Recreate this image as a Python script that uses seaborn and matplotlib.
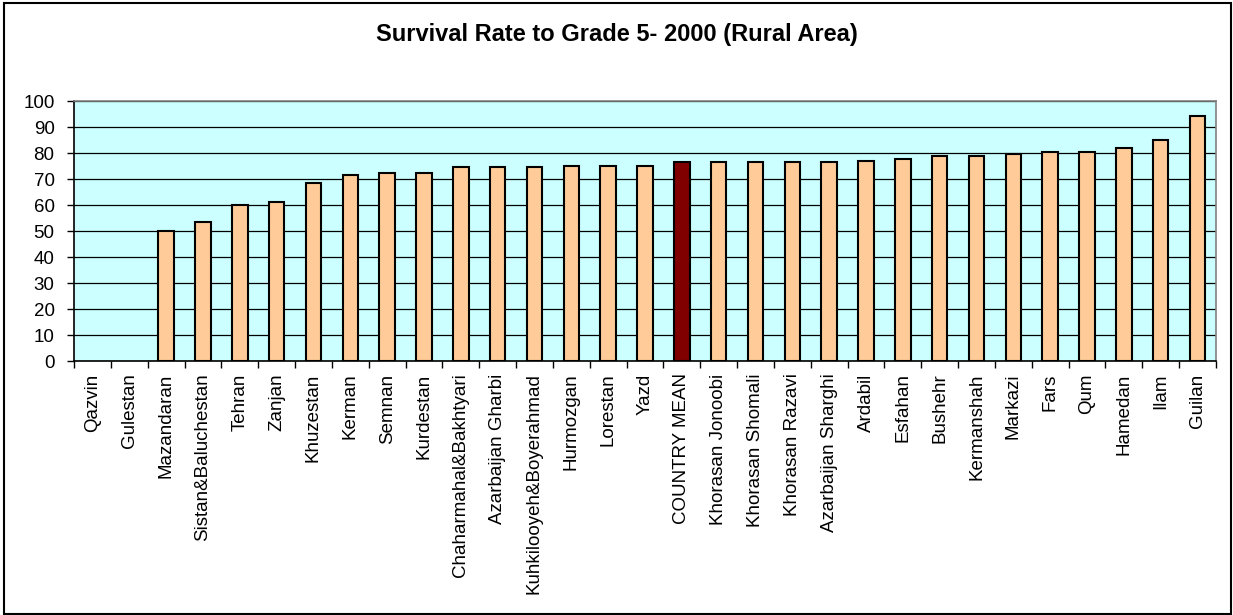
import numpy as np
import pandas as pd
import matplotlib
matplotlib.use("Agg")
import matplotlib.pyplot as plt
from matplotlib.patches import Rectangle
import seaborn as sns

# Survival rate to grade 5 by province (rural areas, 2000)
provinces = [
    "Qazvin", "Gulestan", "Mazandaran", "Sistan&Baluchestan", "Tehran", "Zanjan",
    "Khuzestan", "Kerman", "Semnan", "Kurdestan", "Chaharmahal&Bakhtyari",
    "Azarbaijan Gharbi", "Kuhkilooyeh&Boyerahmad", "Hurmozgan", "Lorestan", "Yazd",
    "COUNTRY MEAN", "Khorasan Jonoobi", "Khorasan Shomali", "Khorasan Razavi",
    "Azarbaijan Sharghi", "Ardabil", "Esfahan", "Bushehr", "Kermanshah", "Markazi",
    "Fars", "Qum", "Hamedan", "Ilam", "Guilan",
]
survival = [
    np.nan, np.nan, 50.0, 53.5, 60.0, 61.0,
    68.3, 71.6, 72.4, 72.4, 74.5,
    74.5, 74.5, 75.1, 75.1, 75.1,
    76.4, 76.4, 76.4, 76.4,
    76.4, 77.0, 77.8, 78.9, 78.9, 79.6,
    80.4, 80.4, 81.8, 85.1, 94.4,
]
yticks = list(range(0, 101, 10))
mean_label = "COUNTRY MEAN"

sns.set_theme(style="white")
plt.rcParams["font.family"] = ["Liberation Sans", "DejaVu Sans"]
plt.rcParams["text.color"] = "black"
plt.rcParams["xtick.color"] = "black"
plt.rcParams["ytick.color"] = "black"
plt.rcParams["xtick.labelcolor"] = "black"
plt.rcParams["ytick.labelcolor"] = "black"

W, H = 1233, 615
fig = plt.figure(figsize=(W / 100, H / 100), dpi=100)
fig.patch.set_facecolor("white")
ax = fig.add_axes([74 / W, 1 - 361 / H, (1216 - 74) / W, 260 / H])

df = pd.DataFrame({"province": provinces, "rate": survival})
palette = {p: ("#800000" if p == mean_label else "#FFCC99") for p in provinces}
sns.barplot(
    data=df, x="province", y="rate", hue="province", order=provinces,
    hue_order=provinces, palette=palette, saturation=1, width=0.42,
    edgecolor="black", linewidth=1.5, legend=False, ax=ax, errorbar=None,
)

ax.set_facecolor("#CCFFFF")
ax.set_xlim(-0.5, len(provinces) - 0.5)
ax.set_ylim(0, 100)
ax.set_yticks(yticks)
ax.set_yticklabels([str(t) for t in yticks], fontsize=13.5, color="black")
ax.yaxis.grid(True, color="black", linewidth=0.9)
ax.xaxis.grid(False)
ax.set_axisbelow(True)
ax.set_xlabel("")
ax.set_ylabel("")

# category labels centred on bars, tick marks between categories
ax.set_xticks(np.arange(len(provinces)))
ax.set_xticklabels(provinces, rotation=90, fontsize=13.5, color="black")
ax.set_xticks(np.arange(len(provinces) + 1) - 0.5, minor=True)
ax.tick_params(axis="x", which="major", length=0, pad=9)
ax.tick_params(axis="x", which="minor", length=5, width=1, color="black", bottom=True)
ax.tick_params(axis="y", which="major", length=5, width=1, color="black", pad=9, left=True)

for side in ("top", "right"):
    ax.spines[side].set_color("#808080")
    ax.spines[side].set_linewidth(1.2)
for side in ("left", "bottom"):
    ax.spines[side].set_color("black")
    ax.spines[side].set_linewidth(1.2)

fig.text(0.5, 1 - 35 / H, "Survival Rate to Grade 5- 2000 (Rural Area)",
         ha="center", va="center", fontsize=17, fontweight="bold", color="black")

fig.patches.append(Rectangle((4 / W, 1 / H), (1231 - 4) / W, (613 - 2) / H,
                             transform=fig.transFigure, fill=False,
                             edgecolor="black", linewidth=1.5))

fig.savefig("out.png", dpi=100)
